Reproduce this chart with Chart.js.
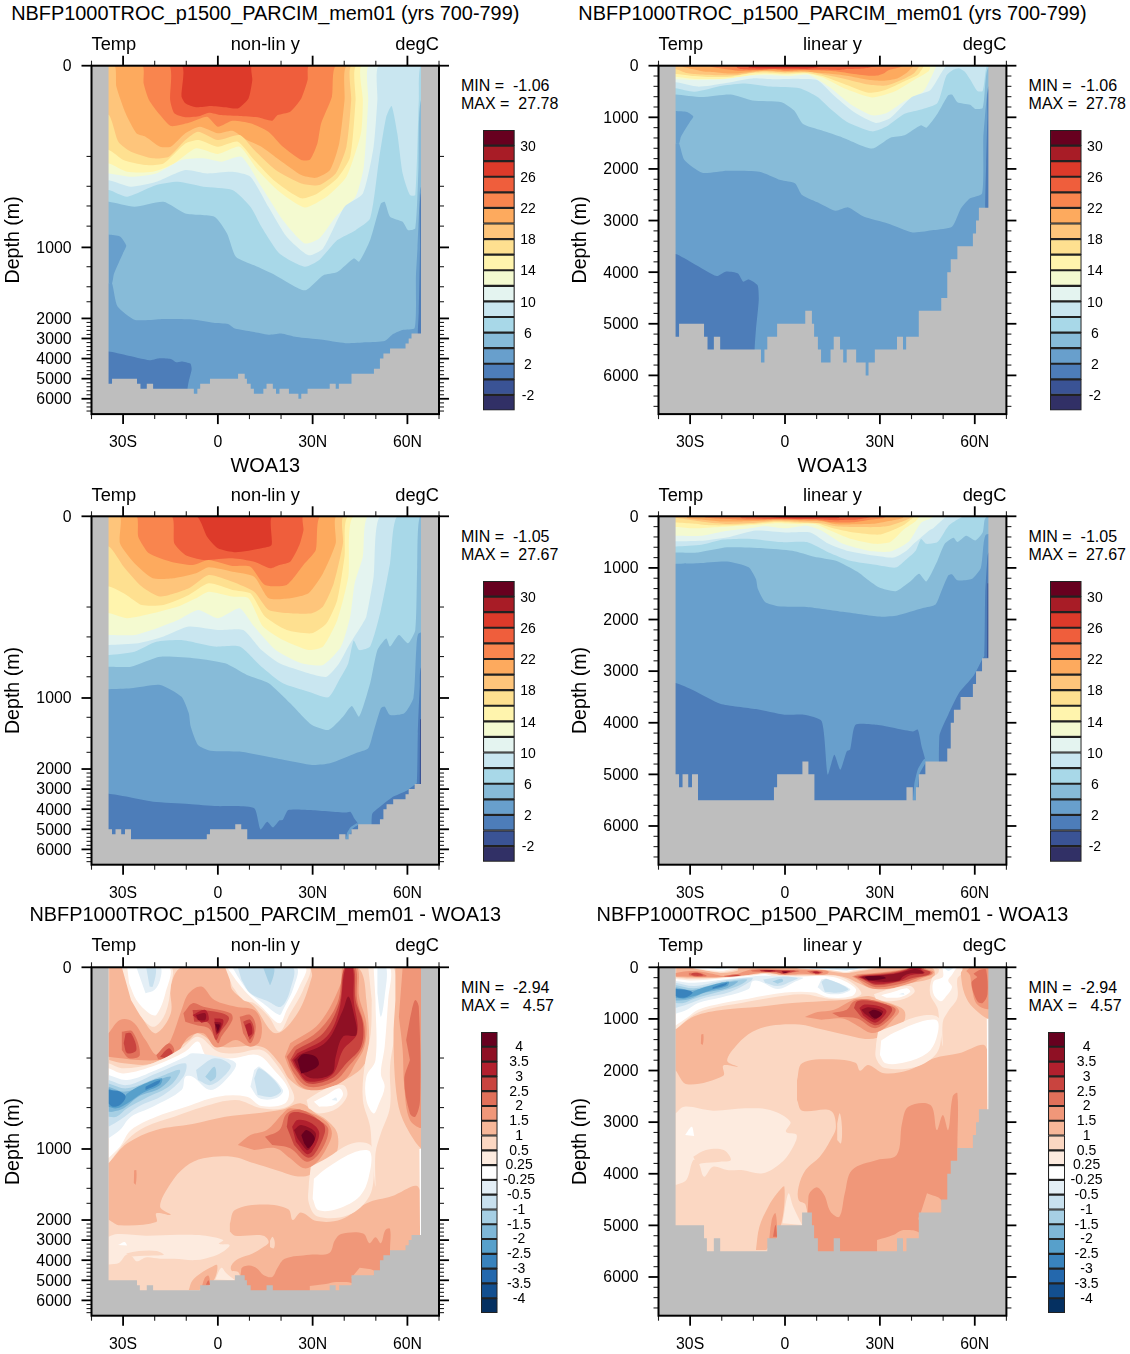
<!DOCTYPE html>
<html><head><meta charset="utf-8">
<script src="https://cdn.jsdelivr.net/npm/chart.js@4"></script>
<style>
html,body{margin:0;padding:0;background:#fff;width:1130px;height:1354px;overflow:hidden}
body{position:relative;font-family:"Liberation Sans",Arial,sans-serif;color:#000}
canvas{position:absolute}
.t{position:absolute;white-space:pre;line-height:1;transform:translateY(-50%)}
.c{transform:translate(-50%,-50%)}
.r{transform:translate(-100%,-50%)}
</style></head><body>
<script>
/* ---------- axis values ---------- */
const latMajor=[-30,0,30,60];
const latLabels=['30S','0','30N','60N'];
const latMinor=[-40,-20,-10,10,20,40,50,70];
const depthMajor=[0,1000,2000,3000,4000,5000,6000];
const nonLinMinor=[180,400,600,800,1272,1554,1765,2200,2400,2600,2800,3200,3400,3600,3800,4200,4400,4600,4800,5200,5400,5600,5800,6200,6400,6600];
const linMinor=[200,400,600,800,1200,1400,1600,1800,2200,2400,2600,2800,3200,3400,3600,3800,4200,4400,4600,4800,5200,5400,5600,5800,6200,6400,6600];
/* the non-linear axis: true depth and its fraction of the axis height */
const nlDepth=[0,45,90,130,187,283,410,600,800,1000,2000,6000,6750];
const nlFrac=[0,.1126,.1664,.2133,.2670,.3197,.3484,.4026,.4605,.5215,.7254,.956,1];
/* upper-ocean readings were taken off the stretched panel: stretched reading -> true depth */
const stretchRead=[0,216,319,409,512,613,668,772,883,1000];
const stretchDepth=[0,45,90,130,187,283,410,600,800,1000];

/* ---------- colour levels ---------- */
const tempColors=['#313066','#3a5395','#4d7db9','#689fcc','#87bbd8','#a8d8e8','#c9e6f0','#e4f4f0','#f4fad0','#fff4ad','#fee090','#fec57b','#fdaa5e','#f9854e','#ef5e3c','#dd3a2a','#a81c26','#67001f'];
const tempLabels=['-2','','2','','6','','10','','14','','18','','22','','26','','30'];
const diffColors=['#053061','#134f8f','#2468ad','#3983bd','#57a0cb','#7fb7d7','#a6cfe4','#c8e0ee','#e4eff6','#ffffff','#fdebdf','#fbd7c2','#f7b799','#f09779','#e0705a','#c9443f','#b2202e','#8f1024','#67001f'];
const diffLabels=['-4','-3.5','-3','-2.5','-2','-1.5','-1','-0.5','-0.25','0.25','0.5','1','1.5','2','2.5','3','3.5','4'];

/* ---------- bathymetry (step edges) ---------- */
const modelBathyLat=[-40,-34.6,-33.5,-25.6,-24.5,-22.5,-20.5,-7.6,-6.5,-5.6,-2.5,6.4,8.5,9.2,10.4,11.4,14.4,15.4,17.4,18.4,19.5,22.5,25.5,26.4,28.4,35.4,37.3,38.3,42.3,49.4,51.3,52.4,54.5,59.4,60.4,61.3,64.3,70];
const modelBathyDepth=[0,5250,5000,5250,5500,5250,5500,5750,5500,5250,5000,4750,5000,5250,5500,5750,5500,5250,5500,5750,5500,5750,6000,5750,5500,5250,5500,5250,4750,4500,4000,3750,3500,3250,3000,2750,0,0];
const woaBathyLat=[-40,-34.6,-33.5,-32.4,-30.6,-29.4,-27.5,-3.5,-2.5,5.5,7.4,9.3,38.4,40.4,41.4,42.3,44.4,51.3,52.4,53.4,55.5,59.4,60.4,62.3,64.3,70];
const woaBathyDepth=[0,5000,5250,5000,5250,5000,5500,5250,5000,4750,5000,5500,5250,5500,5250,5000,4750,4500,4000,3750,3500,3250,3000,2750,0,0];
const diffBathyLat=[-40,-34.6,-25.6,-24.7,-22.5,-20.5,-5.6,-2.5,5.4,8.5,9.2,10.4,15.4,17.4,35.4,37.3,38.4,42.3,49.4,51.3,52.4,54.5,59.4,60.4,61.3,64.3,70];
const diffBathyDepth=[0,5000,5250,5500,5250,5500,5250,5000,4750,5000,5250,5500,5250,5500,5250,5500,5250,4750,4500,4000,3750,3500,3250,3000,2750,0,0];

/* ---------- model isotherms [lat, stretched depth] ---------- */
const mT26=[[-11.5,0],[-11.5,170],[-10.3,207],[-6.9,229],[-2.3,222],[2.3,229],[6.3,235],[9.7,180],[10.9,79],[10.9,0]];
const mT24=[[-15.5,0],[-15.1,189],[-13.8,262],[-10.3,284],[-5.7,277],[-2.9,259],[1.1,272],[6.9,277],[12.6,284],[17.2,303],[18.9,272],[22.9,253],[26.4,180],[28.4,79],[28.9,0]];
const mT22=[[-23.9,0],[-23.5,97],[-21.8,189],[-18.3,272],[-14.9,332],[-9.2,314],[-3.4,281],[0,336],[4.6,303],[10.3,317],[16,363],[20.6,446],[26.4,519],[29.2,516],[31.5,428],[32.7,317],[36.1,171],[37.5,0]];
const mT20=[[-32.7,0],[-32.1,116],[-29.2,262],[-25.8,372],[-22.9,391],[-18.3,446],[-14.9,446],[-10.3,372],[-5.7,336],[0,372],[4.6,358],[9.2,409],[13.8,446],[19.5,519],[26.4,602],[31,617],[35.5,574],[38.4,428],[40.1,189],[40.9,0]];
const mT18=[[-34.5,272],[-31.5,418],[-27.5,473],[-20.6,510],[-15.5,501],[-10.3,409],[-6.3,363],[0,409],[6.9,382],[11.5,464],[18.3,574],[26.4,648],[32.1,657],[37.3,593],[40.7,446],[42.2,189],[42.4,0]];
const mT16=[[-34.5,464],[-29.9,519],[-23,547],[-17.2,538],[-10.3,428],[-6,409],[0,446],[6.3,418],[11.5,519],[18.3,639],[26.4,730],[31.5,703],[37.8,620],[41.9,501],[43.6,189],[43.9,0]];
const mT14=[[-34.5,538],[-28.7,584],[-20.6,584],[-13.8,538],[-6.9,455],[0,486],[6.9,446],[12.6,574],[19.5,694],[27.5,780],[34.4,721],[40.7,611],[45.3,372],[45.9,189],[45.6,0]];
const mT12=[[-34.5,593],[-27.5,611],[-19.5,593],[-11.5,519],[-4.6,510],[1.1,528],[7.5,501],[13.8,666],[20.6,850],[27.5,978],[32.1,951],[37.3,831],[43.6,721],[46.2,556],[47.6,189],[47.9,0]];
const mT10=[[-34.5,630],[-27.5,666],[-19.5,639],[-10.3,574],[-3.4,593],[4.6,584],[10.3,611],[16,776],[21.8,941],[28.7,1110],[33.3,1014],[40.1,776],[45.9,703],[49.3,446],[50.5,189],[51,0]];
const mT8=[[-34.5,684],[-28.7,721],[-19.5,657],[-12.6,639],[-4.6,666],[4.6,684],[10.3,776],[13.8,886],[19.5,1085],[27.5,1272],[32.1,1178],[37.8,960],[43.6,905],[48.2,840],[51,519],[53.3,281],[55,222],[56.8,372],[58.5,593],[60.8,712],[62.5,712],[63.6,189],[64.2,0]];
const mT6=[[-34.5,749],[-26.4,776],[-17.2,749],[-10.3,813],[-1.1,831],[2.9,923],[5.7,1130],[11.5,1253],[18.3,1394],[27.5,1605],[33.3,1394],[37.8,1347],[43,1155],[44.7,1202],[48.2,960],[51.6,758],[52.8,749],[54.5,831],[58.5,859],[60.2,905],[62.5,895],[63.5,560],[64.3,190]];
const mT4=[[-34.6,1505],[-33.5,1505],[-31.8,1828],[-26.2,2074],[-18.3,2035],[-8.1,2054],[-1.4,2216],[3.2,2280],[5.4,2506],[11,2668],[16,2810],[20,2745],[25,2926],[32.5,3055],[40.4,3230],[47,3185],[52.8,3120],[55.6,2765],[58.4,2571],[62.3,2474],[62.7,1400],[63.2,1000],[63.8,770],[64.4,664]];
const mT4Blob=[[-34.6,929],[-31,940],[-29,990],[-30,1080],[-32.9,1376],[-33.5,1505],[-34.6,1505]];
const mT2=[[-34.6,3650],[-29,3830],[-21.6,4076],[-18.8,3990],[-14.9,4025],[-13.2,4186],[-11.5,4140],[-8.7,4250],[-8.3,4540],[-9.2,5120],[-9.6,5500],[-9.6,7000],[63.2,7000],[63.3,2730],[63.6,1900],[64,1000],[64.4,694]];

/* ---------- WOA13 isotherms [lat, stretched depth] ---------- */
const wT26=[[-6.9,0],[-3.4,112],[0,176],[5.7,198],[13.8,176],[17,158],[17.4,0]];
const wT24=[[-14.7,0],[-13.8,149],[-10.3,213],[-4.6,240],[4.6,231],[11.5,250],[16.6,286],[19.5,268],[22.9,250],[25.8,158],[27.1,75],[27.1,0]];
const wT22=[[-25.8,0],[-25.2,112],[-21.8,204],[-14.9,250],[-8,268],[-2.9,240],[4.6,273],[10.3,277],[14.9,378],[21.8,378],[27.5,259],[31,185],[32.6,0]];
const wT20=[[-31,0],[-31,149],[-26.4,259],[-20.6,341],[-13.8,341],[-6.9,314],[-2.9,281],[4.6,305],[11.5,332],[16.1,451],[22.9,451],[28.7,424],[33.3,314],[37.3,149],[37.6,0]];
const wT18=[[-34.4,167],[-29.8,277],[-24.1,387],[-18.3,442],[-9.2,396],[-2.9,323],[4.6,360],[11.5,415],[16.1,516],[22.9,534],[29.8,534],[33.3,497],[36.7,369],[39.6,149],[39.9,0]];
const wT16=[[-34.4,387],[-29.2,430],[-24.1,488],[-17.2,488],[-9.2,433],[-2.9,369],[4.6,405],[10.3,424],[14.9,552],[21.8,626],[29.8,644],[34.4,589],[37.8,460],[40.1,222],[41.3,0]];
const wT14=[[-34.4,534],[-28.7,561],[-20.6,534],[-12.6,497],[-6.9,451],[-2.9,415],[4.6,442],[9.7,451],[14.3,607],[20.6,681],[28.7,736],[33.3,717],[37.8,571],[41.3,332],[43,0]];
const wT12=[[-34.4,653],[-26.4,653],[-19.5,617],[-12.6,571],[-6.3,516],[0,561],[6.9,506],[11.5,607],[18.3,736],[26.4,809],[33.3,818],[39,717],[41.9,552],[43.3,369],[45.9,222],[47.6,0]];
const wT10=[[-34.4,708],[-25.2,699],[-17.2,662],[-9.2,607],[0,626],[8,626],[13.8,736],[19.5,809],[28.7,864],[34.4,883],[38.4,809],[41.3,717],[45.9,589],[47,552],[49.3,332],[51.4,0]];
const wT8=[[-34.4,763],[-26.4,745],[-19.5,690],[-11.5,681],[-1.1,717],[6.9,717],[13.8,828],[20.6,919],[28.7,965],[35,996],[38.4,901],[41.3,809],[43,684],[44.7,736],[48.2,717],[51.6,516],[54.5,259],[56.8,0]];
const wT6=[[-34.4,828],[-27.5,828],[-18.3,773],[-6.9,782],[2.3,809],[9.2,873],[16.1,919],[22.9,1075],[26.4,1239],[29.8,1380],[35,1450],[39.6,1263],[42.4,1113],[44.7,1263],[48.2,919],[50.5,736],[53.3,672],[54.5,717],[57.3,653],[60.2,699],[62.5,626],[63.1,277],[64,0]];
const wT4=[[-34.4,952],[-27.5,947],[-18.3,928],[-11.5,993],[-9.2,1216],[-8.6,1403],[-6.3,1661],[-2.3,1741],[6.9,1755],[18.3,1849],[29.8,1943],[35.5,1920],[43.6,1779],[47.6,1708],[49.3,1473],[51.6,1145],[52.8,1122],[54.5,1239],[59,1216],[61.9,1000],[62.8,736],[63.6,644]];
const wT2=[[-34.6,3230],[-29,3370],[-20.5,3630],[-9.2,3735],[-0.2,3845],[6,3845],[11.6,3970],[13.5,5006],[15.6,4620],[17.5,4910],[19.5,4555],[20.6,4520],[22.3,4040],[29,4040],[40.4,4170],[42,4135],[43.2,4460],[44.4,4750],[44.6,7000],[48.6,7000],[48.8,4263],[51.6,3843],[55,3424],[59.5,3100],[62.3,2778],[63,2700],[63.3,1500],[63.9,940],[64.4,830]];
const wT2Strip=[[40.4,5500],[41.5,5500],[42.5,5000],[44.6,4750],[44,4700],[42,4900],[40.9,5170]];
const wT0Sliver=[[64,1300],[64.4,1300],[64.4,2740],[63.9,2740]];

/* ---------- model minus WOA13 shapes [lat, stretched depth] ---------- */
const dUpper=[[-34.4,0],[-30.4,0],[-27.5,143],[-22.9,308],[-19.5,363],[-14.9,253],[-14.9,106],[-11.5,0],[2.9,0],[4.6,125],[11.5,217],[18.3,363],[25.2,253],[29.8,51],[29.8,0],[44.1,0],[47,180],[47,510],[40.1,620],[28.7,675],[22.9,620],[19.5,528],[13.8,437],[1.1,437],[-6.3,363],[-9.2,400],[-20.6,528],[-29.8,528],[-34.4,510]];
const dMid=[[-34.6,1202],[-28.7,969],[-19.5,895],[-8,862],[2.3,822],[11.5,804],[20.6,782],[26.4,749],[31,804],[34.4,840],[37.8,914],[37.3,1084],[32.1,1295],[26.4,1389],[18.3,1295],[11.5,1202],[4.6,1108],[-4.6,1131],[-10.3,1249],[-14.9,1483],[-18.3,1811],[-14.9,1928],[-19.5,1904],[-19.5,2100],[-31,2266],[-34.6,1995]];
const dSpot=[[-26.5,1300],[-25.8,1300],[-26,1500],[-26.6,1480]];
const dDeepRight=[[3.8,2184],[5.4,1860],[14.4,1783],[22.3,1848],[23.7,2003],[26.3,1893],[31.3,2054],[39.2,1990],[47.1,1764],[55,1667],[63.5,1537],[64.3,2800],[64.3,6800],[7.1,6800],[7.1,4994],[6.5,4600],[4.3,4509],[4.3,4251],[6.5,3928],[11,3669],[14.4,3346],[16.1,3088],[14.4,2778],[5.4,2778],[3.8,2571]];
const dDeepTongue=[[16.5,3030],[17.3,2830],[18,3088],[17.7,3411],[16.5,3346]];
const dDeepCore=[[7.4,6800],[7.4,4444],[9.9,4264],[12.4,4412],[14.4,4735],[17.2,4832],[18.9,4380],[21.2,3928],[29.1,3734],[35.3,3637],[37,3023],[39,2700],[46,2668],[48,3152],[49.9,2862],[51.6,3152],[53,2506],[54.5,2442],[54.5,3475],[54.5,6800]];
const dFinger=[[44.9,4380],[49.4,4509],[49.4,4767],[42.4,4897],[43.2,4703]];
const dBottom=[[29.1,5284],[34.2,5187],[37.5,5090],[42.6,5155],[42,5543],[29.1,5543]];
const dStreak1=[[-9.2,5478],[-8.1,5026],[-5.3,4638],[-2.5,4380],[-0.2,4251],[-1.4,5026],[-5.9,5478]];
const dStreak2=[[-5.3,5478],[-4.2,4897],[-3,4767],[-2.3,5220]];
const dStreak3=[[-3.8,5220],[-3,4994],[-2.5,5220]];
const dPale=[[-34.6,2830],[-31.8,2700],[-22.8,2778],[-12.6,2733],[-4.7,2765],[1.7,2991],[0.3,3185],[3.7,3249],[2,3540],[-1.4,3798],[-7,3992],[-13.8,3928],[-18.3,3928],[-22.8,3863],[-25.6,4057],[-27.3,3798],[-29,3734],[-31.2,4121],[-34.6,4218]];
const dPalePatch=[[-29,3669],[-25,3540],[-19.4,3540],[-17.1,3734],[-20.5,3766],[-26.2,3798],[-27.8,3831]];
const dPaleSmall=[[-16.6,3572],[-13.8,3540],[-14,3766],[-16.2,3766]];
const dSpeck=[[-31.6,3249],[-29.5,3088],[-28.7,3269]];
const dPaleSlim=[[-0.8,4961],[1.1,4380],[2.6,4638],[5.4,4994]];
const dWPatchEnv=[[29.4,1249],[34.4,1130],[42.4,970],[48.4,980],[49.4,1249],[48,1660],[41.3,1930],[31.6,1950],[28.8,1760],[28.8,1483]];
const dWPatch=[[30.4,1420],[34.4,1270],[43.6,1040],[48.2,1040],[47.8,1389],[45,1660],[38,1840],[31.8,1860],[30,1700]];
const dDeepBlob1=[[6.3,978],[10.3,923],[15.5,895],[20.6,804],[22.9,776],[29.8,804],[34.4,850],[36.1,914],[34.4,996],[31,1202],[27.3,1272],[22.9,1131],[18.3,996],[11.5,1014]];
const dDeepBlob2=[[14.9,932],[19.5,895],[21.8,804],[26.4,785],[32.1,840],[35,895],[32.1,1061],[28.1,1178],[22.9,996],[17.2,978]];
const dDeepBlob3=[[21.8,877],[22.9,804],[27.5,804],[33.3,859],[33.8,914],[30.4,1084],[28.1,1117],[24.1,978]];
const dDeepBlob4=[[23.5,877],[25.2,840],[29.8,859],[32.1,914],[29.8,1037],[28.1,1070],[24.7,960]];
const dDeepBlob5=[[24.1,895],[26.4,868],[31,914],[29.2,996],[28.1,1014],[25.2,941]];
const dDeepBlob6=[[26.4,923],[28.1,895],[30.7,941],[28.7,996],[27.3,969]];
const dVertEnv=[[47.6,0],[55.6,0],[56.2,327],[54.5,547],[54.5,767],[51.6,914],[49.9,1061],[49.9,1530],[48.7,996],[48.2,877],[45.9,730],[46.4,547],[48.4,363],[48.7,180]];
const dVertWhite=[[49.3,0],[54.5,0],[53.9,180],[52.8,437],[51.6,584],[52.8,657],[51,749],[49.3,804],[47,730],[47,602],[49.9,510],[49.9,180]];
const dVertBlue=[[50.5,0],[53.3,0],[52.8,161],[51.6,272],[50.5,143]];
const dFar1=[[56.2,0],[64.8,0],[64.8,987],[59.6,877],[56.8,730],[55.6,400],[56.2,180]];
const dFar2=[[58.5,0],[64.8,0],[64.8,877],[60.8,840],[59,657],[58.5,455],[57.3,272]];
const dFar3=[[59.6,400],[61.4,235],[62.5,180],[63.6,217],[64,730],[62.5,822],[60.8,804],[59,620],[60.8,510]];
const dLeftTop1=[[-30.4,0],[-14.9,0],[-14.9,106],[-16.6,253],[-20.1,327],[-23.5,290],[-27.5,180]];
const dLeftTop2=[[-28.7,0],[-15.5,0],[-16.6,143],[-19.5,262],[-21.8,253],[-25.8,180],[-28.1,88]];
const dLeftTop3=[[-25.8,0],[-18.3,0],[-18.3,70],[-20.1,125],[-22.9,143]];
const dLeftTop4=[[-22.7,0],[-19.7,0],[-20.6,106],[-21.6,106]];
const dCenTop1=[[2.3,0],[28.7,0],[27,125],[22.9,253],[19.5,354],[16.1,272],[11.5,198],[8,180],[4.6,106]];
const dCenTop2=[[2.9,0],[27.5,0],[25.8,106],[21.8,235],[19.5,308],[13.8,217],[9.2,143],[5.7,70]];
const dCenTop3=[[4.6,0],[24.7,0],[24.1,106],[20.6,235],[19.5,262],[14.3,198],[9.7,134],[6.3,51]];
const dCenTop4=[[6.3,0],[23.5,0],[22.9,125],[20,217],[16.1,189],[10.3,143],[7.5,70]];
const dCenTop5=[[14.3,0],[17.8,0],[16.6,97],[15.8,70]];
const dLobes=[[-34.6,363],[-31,290],[-27,299],[-22.9,400],[-19.5,483],[-17.2,446],[-14.9,400],[-11.5,235],[-9.2,143],[-5.2,106],[-1.1,180],[5.7,217],[11.5,235],[13.8,308],[13.2,409],[10.3,437],[5.7,400],[1.1,437],[-1.1,437],[-4.6,363],[-9.2,382],[-13.8,492],[-18.3,510],[-25.2,510],[-34.6,492]];
const dLobeA1=[[-30.4,354],[-27,354],[-24.7,483],[-28.1,501],[-30.4,455]];
const dLobeB1=[[-19.5,483],[-15.5,418],[-13.8,455],[-15.5,501],[-18.9,506]];
const dLobeC1=[[-10.9,253],[-8,198],[-4.6,217],[4,253],[4.6,290],[1.1,382],[0,418],[-2.9,336],[-6.9,317],[-10.3,299]];
const dLobeD1=[[6.9,272],[10.3,262],[12,327],[10.3,418],[8,363]];
const dLobeA2=[[-29.2,363],[-27.5,363],[-25.8,455],[-28.7,473],[-29.8,418]];
const dLobeB2=[[-18.3,492],[-15.5,446],[-14.3,477],[-16.6,501]];
const dLobeC2=[[-8,235],[-4.6,235],[3.4,272],[0.6,363],[-0.6,400],[-2.9,308],[-7.5,299]];
const dLobeD2=[[8,299],[10.3,290],[11.5,354],[10.1,400]];
const dLobeC3=[[-8,262],[-4,235],[-2.9,290],[-5.2,305]];
const dLobeE3=[[-1.1,281],[1.7,290],[0.6,354],[-0.6,372]];
const dLobeD3=[[8.6,317],[10.3,308],[10.9,363],[9.7,382]];
const dLobeE4=[[-1.1,299],[1.1,308],[0,363],[-0.6,354]];
const dLobeC4=[[-6.9,262],[-4,253],[-4,290],[-6.3,290]];
const dLobeE5=[[-0.8,312],[0.6,317],[0,354]];
const dRed1=[[22.9,418],[32.1,308],[39,88],[39.6,0],[44.1,0],[44.7,161],[47,308],[46.4,437],[43.6,528],[40.1,620],[32.1,675],[26.4,657],[22.9,565],[21.2,492]];
const dRed2=[[24.1,437],[32.1,345],[37.8,198],[40.1,0],[43.6,0],[44.1,180],[46.4,327],[45.9,437],[41.3,547],[36.7,629],[28.7,657],[24.1,584],[21.8,492]];
const dRed3=[[24.7,455],[33.3,363],[38.4,198],[40.1,0],[43,0],[43.6,180],[45.9,308],[45.3,437],[40.7,528],[36.1,611],[28.7,639],[24.7,565],[22.9,510]];
const dRed4=[[25.2,473],[34.4,382],[38.4,235],[40.4,0],[42.7,0],[43,180],[44.1,363],[39.6,455],[36.1,593],[28.7,629],[25.2,565],[23.5,510]];
const dRed5=[[25.8,483],[34.4,409],[39.6,235],[41.3,161],[43,253],[43.8,372],[39.6,382],[37.3,492],[36.1,584],[29.8,611],[25.8,565],[24.1,510]];
const dRed6=[[25.2,510],[27,479],[31,492],[31.9,538],[28.7,574],[26.4,584]];
const dEnv=[[-34.6,528],[-29.8,556],[-20.6,528],[-11.5,446],[-6.3,382],[0,464],[5.7,473],[13.8,455],[18.3,528],[22.9,657],[24.1,730],[20.6,776],[13.8,776],[5.7,730],[-4.6,767],[-13.8,822],[-22.9,877],[-28.7,950],[-34.6,1202]];
const dWhite=[[-34.6,556],[-29.8,584],[-19.5,538],[-10.3,464],[-6.3,409],[-3.4,492],[4.6,501],[12.6,483],[17.8,565],[22.4,675],[21.2,749],[13.8,763],[9.2,712],[0,712],[-11.5,776],[-19.5,822],[-27.5,895],[-31,987],[-34.6,1127]];
const dBlue1a=[[-34.6,593],[-28.7,620],[-19.5,565],[-10.3,492],[-8,473],[0,492],[5.7,528],[3.4,602],[-2.3,675],[-8,602],[-10.3,602],[-11.5,675],[-20.6,767],[-27.5,822],[-31,895],[-34.6,941]];
const dBlue1b=[[11.5,565],[13.2,547],[20.6,675],[18.3,721],[13.2,721],[10.3,657]];
const dBlue2a=[[-34.6,620],[-28.7,648],[-19.5,584],[-10.3,528],[-10.9,602],[-17.2,703],[-25.2,767],[-31,840],[-34.6,877]];
const dBlue2b=[[-6.9,565],[-1.1,501],[4,538],[2.3,593],[-2.3,648],[-6.3,620]];
const dBlue2c=[[11.5,611],[13.2,556],[20,675],[17.2,712],[12.6,703]];
const dBlue3a=[[-34.6,639],[-28.7,666],[-18.3,602],[-12,565],[-14.9,648],[-22.9,721],[-28.7,776],[-32.1,822],[-34.6,822]];
const dBlue3b=[[-4,602],[-1.1,547],[-0.6,602],[-2.3,629]];
const dBlue4=[[-34.6,657],[-29.2,684],[-20.6,629],[-14.9,602],[-18.3,666],[-25.2,712],[-29.8,776],[-33.3,795],[-34.6,795]];
const dBlue5=[[-34.6,666],[-29.8,712],[-28.7,694],[-24.1,648],[-17.8,611],[-18.3,648],[-24.1,694],[-28.7,749],[-32.1,776],[-34.6,767]];
const dBlue6a=[[-34.6,675],[-31,684],[-29.2,712],[-31,758],[-33.3,767],[-34.6,749]];
const dBlue6b=[[-22.9,657],[-18.3,620],[-18.9,642],[-22.9,675]];
const dRPatch1=[[28.1,730],[33.3,675],[39.6,648],[41,703],[37.8,776],[32.1,804],[28.7,776]];
const dRPatch2=[[30.4,740],[34.4,703],[38.4,666],[39.6,703],[36.7,758],[32.1,767]];
const dRPatch3=[[36,730],[37.4,716],[37.8,735]];
const dWall=[[63.8,1000],[64.4,1000],[64.4,2800],[64,2800]];

/* ---------- painter's order: shape, colour-band index ---------- */
const modelLayers=[[mT26,14],[mT24,13],[mT22,12],[mT20,11],[mT18,10],[mT16,9],[mT14,8],[mT12,7],[mT10,6],[mT8,5],[mT6,4],[mT4,3],[mT2,2]];
const modelBlobs=[[mT4Blob,3]];
const woaLayers=[[wT26,14],[wT24,13],[wT22,12],[wT20,11],[wT18,10],[wT16,9],[wT14,8],[wT12,7],[wT10,6],[wT8,5],[wT6,4],[wT4,3],[wT2,2]];
const woaBlobs=[[wT2Strip,3],[wT0Sliver,1]];
const diffBlobs=[[dUpper,12],[dMid,12],[dSpot,13],[dDeepRight,12],[dDeepTongue,11],[dDeepCore,13],[dFinger,12],[dBottom,12],[dStreak1,12],[dStreak2,13],[dStreak3,14],[dPale,10],[dPalePatch,11],[dPaleSmall,10],[dSpeck,9],[dPaleSlim,10],[dWPatchEnv,10],[dWPatch,9],[dDeepBlob1,13],[dDeepBlob2,14],[dDeepBlob3,15],[dDeepBlob4,16],[dDeepBlob5,17],[dDeepBlob6,18],[dVertEnv,10],[dVertWhite,9],[dVertBlue,8],[dFar1,12],[dFar2,13],[dFar3,14],[dLeftTop1,10],[dLeftTop2,9],[dLeftTop3,8],[dLeftTop4,7],[dCenTop1,10],[dCenTop2,9],[dCenTop3,8],[dCenTop4,7],[dCenTop5,6],[dLobes,13],[dLobeA1,14],[dLobeB1,14],[dLobeC1,14],[dLobeD1,14],[dLobeA2,15],[dLobeB2,15],[dLobeC2,15],[dLobeD2,15],[dLobeC3,16],[dLobeE3,16],[dLobeD3,16],[dLobeE4,17],[dLobeC4,17],[dLobeE5,18],[dRed1,13],[dRed2,14],[dRed3,15],[dRed4,16],[dRed5,17],[dRed6,18],[dEnv,10],[dWhite,9],[dBlue1a,8],[dBlue1b,8],[dBlue2a,7],[dBlue2b,7],[dBlue2c,7],[dBlue3a,6],[dBlue3b,6],[dBlue4,5],[dBlue5,4],[dBlue6a,3],[dBlue6b,3],[dRPatch1,10],[dRPatch2,9],[dRPatch3,8],[dWall,9]];

/* ---------- text ---------- */
const titleModel='NBFP1000TROC_p1500_PARCIM_mem01 (yrs 700-799)';
const titleWoa='WOA13';
const titleDiff='NBFP1000TROC_p1500_PARCIM_mem01 - WOA13';
const statsModel=['MIN =  -1.06','MAX =  27.78'];
const statsWoa=['MIN =  -1.05','MAX =  27.67'];
const statsDiff=['MIN =  -2.94','MAX =   4.57'];

function lookup(v,from,to){
  const n=from.length; let i=0;
  while(i<n-2&&v>from[i+1])i++;
  return to[i]+(v-from[i])/(from[i+1]-from[i])*(to[i+1]-to[i]);
}
function trueDepth(s){return (s>=1000||s<0)?s:lookup(s,stretchRead,stretchDepth);}

/* ---------- custom non-linear depth axis ---------- */
class NonLinDepth extends Chart.LinearScale{
  static id='nonlin';
  static defaults=Chart.LinearScale.defaults;
  getPixelForValue(v){return this.top+lookup(v,nlDepth,nlFrac)*(this.bottom-this.top);}
  getValueForPixel(p){return lookup((p-this.top)/(this.bottom-this.top),nlFrac,nlDepth);}
}
Chart.register(NonLinDepth);

const axisTicks={id:'axisTicks',afterDraw(c,_a,o){
  const g=c.ctx,a=c.chartArea,x=c.scales.x,y=c.scales.y;
  g.save();g.strokeStyle='#000';
  const seg=(x1,y1,x2,y2)=>{g.beginPath();g.moveTo(x1,y1);g.lineTo(x2,y2);g.stroke();};
  const xt=(v,l)=>{const p=x.getPixelForValue(v);seg(p,a.bottom,p,a.bottom+l);seg(p,a.top,p,a.top-l);};
  const yt=(v,l)=>{const p=y.getPixelForValue(v);seg(a.left,p,a.left-l,p);seg(a.right,p,a.right+l,p);};
  g.lineWidth=1.1;g.strokeStyle='#222';latMinor.forEach(v=>xt(v,5));o.minor.forEach(v=>yt(v,5));
  g.lineWidth=1.8;g.strokeStyle='#000';latMajor.forEach(v=>xt(v,10));depthMajor.forEach(v=>yt(v,10));
  g.lineWidth=2;g.strokeRect(a.left,a.top,a.right-a.left,a.bottom-a.top);
  g.restore();
}};

function shape(pts,color,tension){
  return {data:pts.map(p=>({x:p[0],y:trueDepth(p[1])})),backgroundColor:color,borderColor:'transparent',borderWidth:0,pointRadius:0,fill:'shape',tension};
}
function belowCurve(pts){
  const a=pts[0],b=pts[pts.length-1];
  return [[-40,a[1]],...pts,[70,b[1]],[70,7500],[-40,7500]];
}
function stepLand(lats,depths){
  const d=lats.map((v,i)=>({x:v,y:depths[i]}));
  return {data:d,backgroundColor:'#bebebe',borderColor:'transparent',borderWidth:0,pointRadius:0,stepped:true,fill:'start',tension:0};
}
const fullRect=[[-40,-100],[70,-100],[70,7500],[-40,7500]];
const noPadV=s=>{s.paddingTop=0;s.paddingBottom=0;};
const noPadH=s=>{s.paddingLeft=0;s.paddingRight=0;};

function addDiv(txt,x,y,size,cls){
  const d=document.createElement('div');d.className='t '+(cls||'');d.textContent=txt;
  d.style.left=x+'px';d.style.top=y+'px';d.style.fontSize=size+'px';document.body.appendChild(d);
}

function plot(colLeft,plotRight,plotTop,linear,baseColor,curves,colors,blobs,bathyLat,bathyDepth,tension){
  const cv=document.createElement('canvas');
  const topI=Math.round(plotTop)-20;
  const W=454,H=414;
  cv.width=W;cv.height=H;cv.style.left=colLeft+'px';cv.style.top=topI+'px';cv.style.width=W+'px';cv.style.height=H+'px';
  document.body.appendChild(cv);
  const ds=[shape(fullRect,baseColor,0)];
  curves.forEach(c=>ds.push(shape(belowCurve(c[0]),colors[c[1]],tension)));
  blobs.forEach(b=>ds.push(shape(b[0],colors[b[1]],tension)));
  ds.push(stepLand(bathyLat,bathyDepth));
  ds.forEach((d,i)=>{d.order=ds.length-i;});
  const pt=plotTop-topI;
  new Chart(cv,{type:'line',data:{datasets:ds},plugins:[axisTicks],options:{
    responsive:false,animation:false,devicePixelRatio:1,
    events:[],
    layout:{autoPadding:false,padding:{left:0,top:pt,right:W-(plotRight-colLeft),bottom:H-pt-348.4-45}},
    plugins:{legend:{display:false},tooltip:{enabled:false},axisTicks:{minor:linear?linMinor:nonLinMinor}},
    scales:{
      x:{type:'linear',min:-40,max:70,grid:{display:false,drawTicks:false},border:{display:false},
        afterBuildTicks:s=>{s.ticks=latMajor.map(v=>({value:v}));},
        afterFit:s=>{s.height=45;noPadH(s);},
        ticks:{autoSkip:false,maxRotation:0,minRotation:0,padding:19,color:'#000',font:{family:'"Liberation Sans"',size:15.8},
          callback:v=>latLabels[latMajor.indexOf(v)]}},
      y:{type:linear?'linear':'nonlin',reverse:linear,min:0,max:6750,grid:{display:false,drawTicks:false},border:{display:false},
        afterBuildTicks:s=>{s.ticks=depthMajor.map(v=>({value:v}));},
        afterFit:s=>{s.width=91.5;noPadV(s);},
        title:{display:true,text:'Depth (m)',color:'#000',font:{family:'"Liberation Sans"',size:19.6},padding:{top:2,bottom:0}},
        ticks:{autoSkip:false,padding:20,labelOffset:1,color:'#000',font:{family:'"Liberation Sans"',size:15.8},callback:v=>String(v)}}
    }
  }});
}

function colorbar(x,right,top,bottom,colors,labels,labelCenterWidth,off){
  const cv=document.createElement('canvas');
  const cw=(right-x)+labelCenterWidth, ch=Math.ceil(bottom-top)+8;
  const W=Math.ceil(cw)+4;
  cv.width=W;cv.height=ch;cv.style.left=(x-2)+'px';cv.style.top=(top-4)+'px';cv.style.width=W+'px';cv.style.height=ch+'px';
  document.body.appendChild(cv);
  const ds=colors.map((c,i)=>({data:[[i,i+1]],backgroundColor:c,borderColor:'#222',borderWidth:1.4,borderSkipped:false,barPercentage:1,categoryPercentage:1}));
  new Chart(cv,{type:'bar',data:{labels:[''],datasets:ds},options:{
    responsive:false,animation:false,devicePixelRatio:1,events:[],
    layout:{autoPadding:false,padding:{left:2,right:W-2-(right-x)-labelCenterWidth,top:4,bottom:ch-4-(bottom-top)}},
    plugins:{legend:{display:false},tooltip:{enabled:false}},
    scales:{
      x:{stacked:true,display:false},
      y:{position:'right',min:0,max:colors.length,grid:{display:false,drawTicks:false},border:{display:false},
        afterBuildTicks:s=>{s.ticks=labels.map((_,i)=>({value:i+1}));},
        afterFit:s=>{s.width=labelCenterWidth;noPadV(s);},
        ticks:{autoSkip:false,padding:5.5,labelOffset:off,color:'#000',crossAlign:'center',font:{family:'"Liberation Sans"',size:14},callback:v=>labels[v-1]}}
    }
  }});
}

const cols=[
 {left:0,pl:91.5,pr:439,statX:461,cbT:[483.3,515],cbD:[480.7,497.3]},
 {left:567,pl:658.5,pr:1006.4,statX:1028.6,cbT:[1050.4,1082],cbD:[1047.5,1064.6]}
];
const rows=[
 {top:65.7,titleY:14,subY:44.3,st1:86,st2:104,cb:[130,410.5],title:titleModel,stats:statsModel,colors:tempColors,labels:tempLabels,base:15,curves:modelLayers,blobs:modelBlobs,bLat:modelBathyLat,bDep:modelBathyDepth,ten:0.2,diff:false},
 {top:516.3,titleY:465.7,subY:495,st1:537,st2:555,cb:[581,861.7],title:titleWoa,stats:statsWoa,colors:tempColors,labels:tempLabels,base:15,curves:woaLayers,blobs:woaBlobs,bLat:woaBathyLat,bDep:woaBathyDepth,ten:0.2,diff:false},
 {top:967.3,titleY:915,subY:945.3,st1:988,st2:1006,cb:[1031.7,1312.7],title:titleDiff,stats:statsDiff,colors:diffColors,labels:diffLabels,base:11,curves:[],blobs:diffBlobs,bLat:diffBathyLat,bDep:diffBathyDepth,ten:0.35,diff:true}
];
rows.forEach(r=>{
  cols.forEach((c,ci)=>{
    const linear=ci===1;
    plot(c.left,c.pr,r.top,linear,r.colors[r.base],r.curves,r.colors,r.blobs,r.bLat,r.bDep,r.ten);
    const mid=(c.pl+c.pr)/2;
    addDiv(r.title,mid,r.titleY,19.9,'c');
    addDiv('Temp',c.pl,r.subY,18.3);
    addDiv(linear?'linear y':'non-lin y',mid,r.subY,18.3,'c');
    addDiv('degC',c.pr,r.subY,18.3,'r');
    addDiv(r.stats[0],c.statX,r.st1,16);
    addDiv(r.stats[1],c.statX,r.st2,16);
    const cb=r.diff?c.cbD:c.cbT;
    colorbar(cb[0],cb[1],r.cb[0],r.cb[1],r.colors,r.labels,r.diff?44:28,r.diff?0.5:1.3);
  });
});
</script>
</body></html>
